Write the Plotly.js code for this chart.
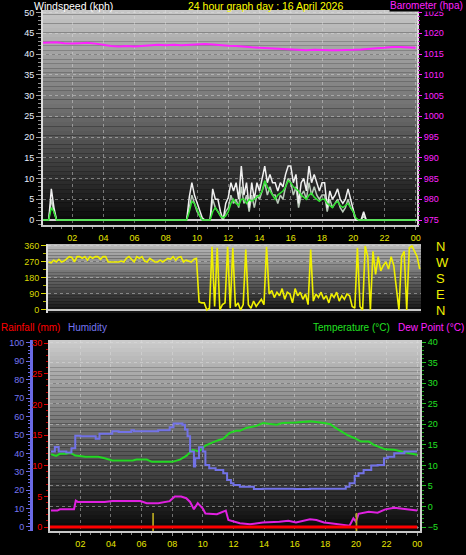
<!DOCTYPE html>
<html>
<head>
<meta charset="utf-8">
<script src="https://cdn.plot.ly/plotly-3.0.1.min.js"></script>
<style>
html,body{margin:0;padding:0;background:#000;}
#chart{width:466px;height:555px;}
</style>
</head>
<body>
<div id="chart"></div>
<script>
// ---------------- DATA ----------------
const dayLabel = "24 hour graph day : 16 April 2026";
const baseDay = "2026-04-16";
const nextDay = "2026-04-17";

const tickLabelsHours = ["02","04","06","08","10","12","14","16","18","20","22","00"];

// Barometer (hPa), every 30 min from 00:00 to 24:00
const baroStart = "00:00", baroStepMin = 30;
const baroValues = [
  1017.7,1017.8,1017.8,1017.6,1017.5,1017.6,1017.7,1017.5,1017.2,1016.9,
  1016.8,1016.9,1016.8,1016.9,1017.1,1017.2,1017.1,1017.2,1017.1,1017.2,
  1017.2,1017.4,1017.3,1017.1,1017.0,1016.9,1016.7,1016.6,1016.5,1016.4,
  1016.3,1016.2,1016.0,1015.9,1015.9,1016.0,1015.9,1015.9,1015.9,1015.9,
  1016.0,1016.1,1016.3,1016.4,1016.5,1016.7,1016.7,1016.6,1016.5
];

// Wind (kph), every 10 min from 00:00 to 24:00 (one row per hour)
const windStart = "00:00", windStepMin = 10;
const windGust = [
  0,0,0,0,7.5,3,
  0,0,0,0,0,0,  0,0,0,0,0,0,  0,0,0,0,0,0,  0,0,0,0,0,0,
  0,0,0,0,0,0,  0,0,0,0,0,0,  0,0,0,0,0,0,  0,0,0,0,0,0,
  0,0,0,5.5,9,6,
  4,2,0.5,0,0,0,
  7.5,5,5,2,0,4,
  5.5,9,7,9,5,13,
  6,9,3,9,5,9,
  7,10,13,9,11,9,
  9,7,9,8,11,13,
  13,9,11,4,9,10,
  7,13,9,11,9,7,
  9,9,3,7,5,6,
  7.5,5,4,5,7.5,5,
  3,0,0,0,2,0,
  0,0,0,0,0,0,  0,0,0,0,0,0,  0,0,0,0,0,0,
  0
];
const windSpeed = [
  0,0,0,0,5,2,
  0,0,0,0,0,0,  0,0,0,0,0,0,  0,0,0,0,0,0,  0,0,0,0,0,0,
  0,0,0,0,0,0,  0,0,0,0,0,0,  0,0,0,0,0,0,  0,0,0,0,0,0,
  0,0,0,3,6,4,
  2,1,0,0,0,0,
  5,3,2,1,0,2,
  3,6,4,5,3,8,
  4,6,2,6,3,6,
  5,7,9,6,8,6,
  6,4,6,5,8,10,
  9,6,8,3,6,7,
  5,9,6,8,6,5,
  6,6,2,5,3,4,
  5,3,2,3,5,3,
  2,0,0,0,1,0,
  0,0,0,0,0,0,  0,0,0,0,0,0,  0,0,0,0,0,0,
  0
];
const windAvg = [
  0,0,0,0,3,2,
  0,0,0,0,0,0,  0,0,0,0,0,0,  0,0,0,0,0,0,  0,0,0,0,0,0,
  0,0,0,0,0,0,  0,0,0,0,0,0,  0,0,0,0,0,0,  0,0,0,0,0,0,
  0,0,0,2,4.5,4,
  2.5,1,0,0,0,0,
  2,3,2,1,0.5,1,
  2,4,5,4,3.5,5,
  5,4,5,4.5,5,5.5,
  6,7,9.5,8,7,6,
  5,6,6.5,7,8,9.5,
  9,8,7.5,7,6,5.5,
  5,6,6.5,5.5,5,4.5,
  5,5,4,3.5,3,4,
  4.5,3.5,3,3.5,4,3,
  2,0.5,0,0,0,0,
  0,0,0,0,0,0,  0,0,0,0,0,0,  0,0,0,0,0,0,
  0
];

// Wind direction (degrees), every 10 min from 00:10 to 24:00
const dirStart = "00:10", dirStepMin = 10;
const windDir = [
  270,265,280,270,285,270,
  275,290,300,295,270,300,
  300,290,300,280,300,290,
  300,300,285,300,300,270,
  270,270,270,270,275,270,
  290,300,285,270,300,290,
  300,275,270,290,280,270,
  270,280,270,280,290,285,
  300,280,295,300,270,280,
  275,270,285,290,45,40,
  40,0,10,355,20,350,
  0,30,40,355,10,350,
  20,40,0,30,340,30,
  10,50,20,40,60,30,
  355,90,110,70,100,80,
  120,60,100,90,40,120,
  80,100,60,90,30,340,
  50,90,70,100,60,80,
  40,90,70,100,50,80,
  60,90,80,20,10,350,
  20,0,360,300,0,330,
  200,300,220,250,270,230,
  300,250,120,0,300,330,
  0,350,360,330,300,230
];
const dirTickVals = [0,90,180,270,360];
const compassVals = [360,270,180,90,0];
const compassLabels = ["N","W","S","E","N"];

// Humidity (%)
const humTimes = ["00:05","00:20","00:35","01:05","01:25","01:40","02:00","02:50","03:00","03:15","03:50","04:05","04:30","05:20","05:30","06:50","07:05","07:35","07:50","08:05","08:30","08:40","08:50","09:00","09:10","09:25","09:30","09:45","10:00","10:10","10:25","10:50","11:20","11:35","11:50","12:00","12:25","13:20","13:55","16:00","17:00","19:10","19:20","19:35","19:55","20:10","20:30","21:00","21:25","21:50","22:05","22:30","23:10","24:00"];
const humValues = [41,43.5,41,40.5,42.8,49.6,49.3,49.3,48,50.7,50.7,52,51.6,52.5,52,52,52.5,52.5,54.2,56.2,56.2,55.6,52.9,49.3,41,32.8,37.3,43.3,41,33.7,31.9,31,29.2,25.5,23.7,22.8,21.9,20.6,20.8,20.6,20.8,20.8,21.9,23.7,27.7,29.2,31,33.4,33.7,37.3,38.2,40,41,41];

// Temperature (°C)
const tempTimes = ["00:05","00:25","00:40","01:05","01:20","01:40","02:20","03:10","03:35","04:05","05:25","05:40","06:20","06:40","08:00","08:30","08:55","09:20","09:45","10:10","10:55","11:20","11:45","12:10","12:25","12:50","13:30","13:55","14:50","15:10","16:05","17:00","17:55","18:20","18:40","19:25","19:55","20:20","20:50","21:10","21:55","22:30","23:10","24:00"];
const tempValues = [12.7,12.3,12.8,12.8,13.1,12.4,12.1,12.1,11.75,11.2,11.2,11.4,11.4,10.85,10.85,11.4,12.3,13.8,13.4,14.8,16.0,16.5,17.9,18.4,18.4,19.1,19.6,20.3,19.9,20.3,20.4,20.7,20.3,20.0,19.1,17.4,16.6,15.8,15.8,15.0,13.9,13.8,13.2,12.6];

// Dew point (°C)
const dewTimes = ["00:05","00:30","00:40","01:35","01:42","01:50","03:35","04:05","05:55","06:20","07:05","07:50","08:10","08:35","08:55","09:10","09:25","09:40","10:00","10:10","10:55","11:20","11:30","11:40","12:10","12:25","13:05","13:55","15:00","15:35","16:05","17:00","17:25","17:55","18:20","19:00","19:35","19:50","20:00","20:10","20:50","21:25","21:55","22:30","23:10","24:00"];
const dewValues = [-1.0,-1.0,-0.7,-0.7,1.4,1.1,1.1,1.3,1.3,0.8,0.8,1.3,2.4,2.4,2.0,1.1,-0.7,0.8,-0.5,-1.7,-1.9,-1.3,-1.0,-3.3,-3.95,-4.1,-4.35,-3.9,-3.7,-3.5,-3.9,-3.1,-3.3,-3.9,-4.1,-4.5,-4.7,-2.9,-3.7,-1.8,-1.3,-1.5,-0.7,-0.3,-0.6,-1.0];

// Rainfall (mm), hourly
const rainStart = "00:00", rainStepMin = 60;
const rainValues = [0,0,0,0,0,0,0,0,0,0,0,0,0,0,0,0,0,0,0,0,0,0,0,0,0];

// Event markers (yellow bars)
const eventTimes = ["06:45","20:02"];
const eventValues = [2.95,2.95];

// ---------------- HELPERS ----------------
function pad(n){return (n<10?"0":"")+n;}
function toDate(hhmm){
  const p = hhmm.split(":").map(Number);
  const mins = p[0]*60+p[1];
  const d = mins>=1440 ? nextDay : baseDay;
  const mm = mins % 1440;
  return d+" "+pad(Math.floor(mm/60))+":"+pad(mm%60);
}
function series(start, step, n){
  const p = start.split(":").map(Number);
  const s = p[0]*60+p[1];
  const out=[];
  for(let i=0;i<n;i++){const m=s+i*step; out.push(pad(Math.floor(m/60))+":"+pad(m%60));}
  return out.map(toDate);
}
function gradient(xref, yref, top, bottom, n){
  const shapes=[];
  for(let i=0;i<n;i++){
    const f=(i+0.5)/n;
    const g=Math.round(top+(bottom-top)*f);
    shapes.push({type:"rect",xref:xref,yref:yref,x0:0,x1:1,y0:1-(i+1)/n,y1:1-i/n,
      fillcolor:"rgb("+g+","+g+","+g+")",line:{width:0},layer:"below"});
  }
  return shapes;
}

const FONT = "Liberation Sans, Arial, sans-serif";
const rangeTop = [baseDay+" 00:08", nextDay+" 00:05"];
const rangeBot = [baseDay+" 00:01", nextDay+" 00:11"];
const HOUR2 = 7200000;

// ---------------- TRACES ----------------
const windX = series(windStart, windStepMin, windGust.length);
const traces = [
  {x: series(baroStart, baroStepMin, baroValues.length), y: baroValues, xaxis:"x", yaxis:"y2",
   mode:"lines", line:{color:"#ff22ff", width:2}},
  {x: windX, y: windSpeed, xaxis:"x", yaxis:"y", mode:"lines", line:{color:"#b8c8b8", width:1.5}},
  {x: windX, y: windGust, xaxis:"x", yaxis:"y", mode:"lines", line:{color:"#f0f0f0", width:1.5}},
  {x: windX, y: windAvg, xaxis:"x", yaxis:"y", mode:"lines", line:{color:"#30e030", width:1.5}},
  {x: series(dirStart, dirStepMin, windDir.length), y: windDir, xaxis:"x2", yaxis:"y3",
   mode:"lines", line:{color:"#f0f000", width:1.6}},
  {x: [], y: [], xaxis:"x2", yaxis:"y4", mode:"lines"},
  {x: eventTimes.map(toDate), y: eventValues, base:-0.65, type:"bar", width:420000,
   xaxis:"x3", yaxis:"y7", marker:{color:"#b0a020", line:{width:0}}},
  {x: series(rainStart, rainStepMin, rainValues.length), y: rainValues, xaxis:"x3", yaxis:"y7",
   mode:"lines", line:{color:"#ff0000", width:3}},
  {x: humTimes.map(toDate), y: humValues, xaxis:"x3", yaxis:"y6", mode:"lines",
   line:{color:"#7272e6", width:2, shape:"hv"}},
  {x: tempTimes.map(toDate), y: tempValues, xaxis:"x3", yaxis:"y5", mode:"lines",
   line:{color:"#22d822", width:2}},
  {x: dewTimes.map(toDate), y: dewValues, xaxis:"x3", yaxis:"y5", mode:"lines",
   line:{color:"#e020e0", width:2}}
];

// ---------------- LAYOUT ----------------
const W=466, H=555;
const px = v => v/W, py = v => 1 - v/H;
const grid = {showgrid:true, gridcolor:"rgba(225,225,225,0.45)", griddash:"dot", gridwidth:1};

const layout = {
  width:W, height:H, margin:{l:0,r:0,t:0,b:0},
  paper_bgcolor:"#000", plot_bgcolor:"#000",
  showlegend:false, font:{family:FONT, size:9, color:"#fff"},
  barmode:"overlay",
  xaxis: Object.assign({domain:[px(43),px(417)], anchor:"y", type:"date", range:rangeTop,
    tickmode:"linear", tick0:baseDay+" 02:00", dtick:HOUR2, tickformat:"%H",
    tickfont:{color:"#e6e600", size:9, family:FONT}, ticks:"outside", ticklen:3, tickcolor:"#909090",
    showline:true, linecolor:"#c8c8c8", linewidth:2,
    minor:{ticks:"outside", ticklen:2, dtick:2400000, tickcolor:"#808080"}}, grid),
  yaxis: Object.assign({domain:[py(225),py(10)], anchor:"x", range:[-1.2,50.6], dtick:5,
    tickfont:{color:"#e8f0ff", size:9, family:FONT}, ticks:"outside", ticklen:5, tickcolor:"#a0a0a0",
    showline:true, mirror:true, linecolor:"#dcdcdc", linewidth:2,
    zeroline:true, zerolinecolor:"#d0d0d0", zerolinewidth:2,
    minor:{ticks:"outside", ticklen:3, dtick:1, tickcolor:"#909090"}}, grid),
  yaxis2: {overlaying:"y", side:"right", anchor:"x", range:[973.8,1025.6], dtick:5, showgrid:false,
    zeroline:false, tickfont:{color:"#ff22ff", size:9, family:FONT}, ticks:"outside", ticklen:4,
    tickcolor:"#ff22ff", minor:{ticks:"outside", ticklen:2, dtick:1, tickcolor:"#c020c0"}},
  xaxis2: {domain:[px(48),px(421)], anchor:"y3", type:"date", range:rangeTop, showticklabels:false,
    ticks:"", showgrid:false, showline:false, zeroline:false},
  yaxis3: Object.assign({domain:[py(313),py(244)], anchor:"x2", range:[-17,371], tickmode:"array",
    tickvals:dirTickVals, tickfont:{color:"#d8d800", size:9, family:FONT}, ticks:"outside", ticklen:5,
    tickcolor:"#d8d800", showline:true, linecolor:"#dcdcdc", linewidth:2,
    zeroline:true, zerolinecolor:"#c8c8c8", zerolinewidth:2,
    minor:{ticks:"outside", ticklen:3, tickvals:[45,135,225,315], tickcolor:"#b0b000"}}, grid),
  yaxis4: {overlaying:"y3", side:"right", anchor:"x2", range:[-17,371], tickmode:"array",
    tickvals:compassVals, ticktext:compassLabels, ticks:"", showgrid:false, zeroline:false,
    showline:false, ticklabelstandoff:14, tickfont:{color:"#f0f000", size:13, family:FONT}},
  xaxis3: Object.assign({domain:[px(50),px(420)], anchor:"y5", type:"date", range:rangeBot,
    tickmode:"linear", tick0:baseDay+" 02:00", dtick:HOUR2, tickformat:"%H",
    tickfont:{color:"#e6e600", size:9, family:FONT}, ticks:"outside", ticklen:3, tickcolor:"#909090",
    showline:true, linecolor:"#c8c8c8", linewidth:2,
    minor:{ticks:"outside", ticklen:2, dtick:2400000, tickcolor:"#808080"}}, grid),
  yaxis5: Object.assign({domain:[py(531),py(340)], anchor:"x3", side:"right", range:[-5.97,40.5],
    dtick:5, tickfont:{color:"#22e022", size:9, family:FONT}, ticks:"outside", ticklen:4,
    tickcolor:"#22c022", showline:true, mirror:true, linecolor:"#d0d0d0", linewidth:2, zeroline:false,
    minor:{ticks:"outside", ticklen:2, dtick:1, tickcolor:"#20a020"}}, grid),
  yaxis6: {overlaying:"y5", anchor:"free", position:px(31), side:"left", range:[-2.2,101.6],
    dtick:10, showgrid:false, zeroline:false, showline:true, linecolor:"#6a6ae6", linewidth:3,
    ticks:"outside", ticklen:4, tickcolor:"#6a6ae6", tickfont:{color:"#7676f0", size:9, family:FONT},
    minor:{ticks:"outside", ticklen:2, dtick:2, tickcolor:"#6a6ae6"}},
  yaxis7: {overlaying:"y5", anchor:"free", position:px(48), side:"left", range:[-0.65,30.5],
    dtick:5, showgrid:false, zeroline:false, showline:false,
    ticks:"outside", ticklen:4, tickcolor:"#e00000", tickfont:{color:"#ff0000", size:9, family:FONT},
    minor:{ticks:"outside", ticklen:2, dtick:1, tickcolor:"#c00000"}},
  shapes: [].concat(
    gradient("x domain","y domain",200,6,48),
    gradient("x2 domain","y3 domain",190,14,24),
    gradient("x3 domain","y5 domain",205,6,48)
  ),
  annotations: [
    {text:"Windspeed (kph)", xref:"paper", yref:"paper", x:px(33), y:py(5.5), xanchor:"left", yanchor:"middle",
     showarrow:false, borderpad:0, font:{color:"#ffffff", size:10.5, family:FONT}},
    {text:dayLabel, xref:"paper", yref:"paper", x:px(265), y:py(5.5), xanchor:"center", yanchor:"middle",
     showarrow:false, borderpad:0, font:{color:"#ffff00", size:10.5, family:FONT}},
    {text:"Barometer (hpa)", xref:"paper", yref:"paper", x:px(464), y:py(5.5), xanchor:"right", yanchor:"middle",
     showarrow:false, borderpad:0, bgcolor:"#000", font:{color:"#ff22ff", size:10, family:FONT}},
    {text:"Rainfall (mm)", xref:"paper", yref:"paper", x:px(0), y:py(327), xanchor:"left", yanchor:"middle",
     showarrow:false, borderpad:0, font:{color:"#ff0000", size:10, family:FONT}},
    {text:"Humidity", xref:"paper", yref:"paper", x:px(67), y:py(327), xanchor:"left", yanchor:"middle",
     showarrow:false, borderpad:0, font:{color:"#7676f0", size:10, family:FONT}},
    {text:"Temperature (°C)", xref:"paper", yref:"paper", x:px(312), y:py(327), xanchor:"left", yanchor:"middle",
     showarrow:false, borderpad:0, font:{color:"#22e022", size:10, family:FONT}},
    {text:"Dew Point (°C)", xref:"paper", yref:"paper", x:px(465), y:py(327), xanchor:"right", yanchor:"middle",
     showarrow:false, borderpad:0, font:{color:"#ff22ff", size:10, family:FONT}}
  ]
};

Plotly.newPlot("chart", traces, layout, {staticPlot:true, displayModeBar:false});
</script>
</body>
</html>
